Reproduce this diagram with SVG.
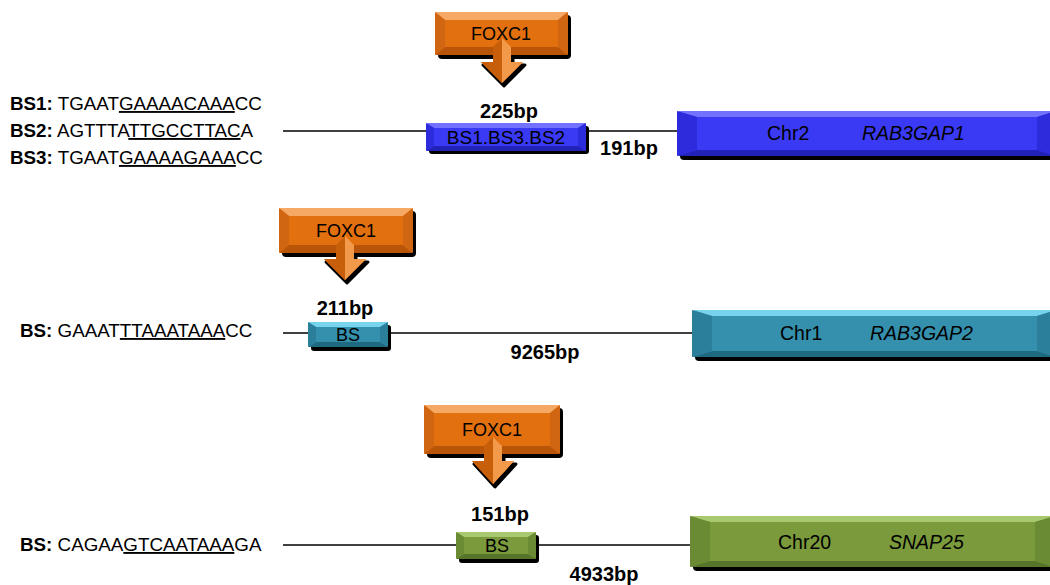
<svg xmlns="http://www.w3.org/2000/svg" width="1050" height="585" viewBox="0 0 1050 585">
<style>
text{font-family:"Liberation Sans",Arial,sans-serif;fill:#000}
.seq{font-size:18.8px}
.b{font-weight:bold}
.u{text-decoration:underline}
.bp{font-size:20px;font-weight:bold;text-anchor:middle}
.lbl{font-size:18px;text-anchor:middle}
.gene{font-size:19.5px}
.it{font-style:italic}
.sh{fill:#000}
.ash{fill:#000;stroke:#000;stroke-width:3;stroke-linejoin:round}
.ln{stroke:#000;stroke-width:1.5;fill:none}
</style>
<rect width="1050" height="585" fill="#fff"/>
<g id="connectors">
<line class="ln" x1="283" y1="131" x2="678" y2="131"/>
<line class="ln" x1="283" y1="333" x2="693" y2="333"/>
<line class="ln" x1="283" y1="545" x2="691" y2="545"/>
</g>
<g id="seq1">
<text class="seq" x="10" y="110"><tspan class="b">BS1:</tspan> TGAAT<tspan class="u">GAAAACAAA</tspan>CC</text>
<text class="seq" x="10" y="137"><tspan class="b">BS2:</tspan> AGTTTA<tspan class="u">TTGCCTTAC</tspan>A</text>
<text class="seq" x="10" y="164"><tspan class="b">BS3:</tspan> TGAAT<tspan class="u">GAAAAGAAA</tspan>CC</text>
</g>
<g id="seq2"><text class="seq" x="20" y="337"><tspan class="b">BS:</tspan> GAAAT<tspan class="u">TTAAATAAA</tspan>CC</text></g>
<g id="seq3"><text class="seq" x="20" y="551"><tspan class="b">BS:</tspan> CAGAA<tspan class="u">GTCAATAAA</tspan>GA</text></g>

<!-- FOXC1 callout 1 -->
<g id="foxc1-1">
<rect class="sh" x="438" y="15" width="133" height="44" rx="4"/>
<polygon class="ash" transform="translate(2,3)" points="493,55 511,55 511,62 523,62 502,83 481,62 493,62"/>
<rect x="435" y="12" width="133" height="43" rx="4" fill="#e2700f"/>
<polygon fill="#f6a865" points="435,12 568,12 558,20 445,20"/>
<polygon fill="#b85508" points="435,55 568,55 558,47 445,47"/>
<polygon fill="#d06512" points="435,12 445,20 445,47 435,55"/>
<polygon fill="#d06512" points="568,12 558,20 558,47 568,55"/>
<polygon fill="#e2700f" points="493,47 511,47 511,62 523,62 502,83 481,62 493,62"/>
<polygon fill="#f39a4a" points="502,38 511,47 511,62 523,62 502,83"/>
<polygon fill="#c65e0a" points="493,47 502,38 502,83 481,62 493,62"/>
<text class="lbl" x="501" y="40">FOXC1</text>
</g>
<!-- BS box 1 -->
<g id="bs1">
<rect class="sh" x="429" y="126" width="160" height="28" rx="3"/>
<rect x="426" y="123" width="160" height="28" rx="3" fill="#3a3af5"/>
<polygon fill="#7272ff" points="426,123 586,123 578,128 434,128"/>
<polygon fill="#2222b8" points="426,151 586,151 578,146 434,146"/>
<polygon fill="#2c2cdc" points="426,123 434,128 434,146 426,151"/>
<polygon fill="#2c2cdc" points="586,123 578,128 578,146 586,151"/>
<text class="lbl" x="506" y="144" style="font-size:19px">BS1.BS3.BS2</text>
</g>
<text class="bp" x="509" y="118">225bp</text>
<text class="bp" x="629" y="155">191bp</text>
<!-- Gene 1 -->
<g id="gene1">
<rect class="sh" x="680" y="114" width="380" height="46" rx="4"/>
<rect x="677" y="111" width="380" height="45" rx="4" fill="#3a3af5"/>
<polygon fill="#7272ff" points="677,111 1057,111 1037,117 697,117"/>
<polygon fill="#2222b8" points="677,156 1057,156 1037,150 697,150"/>
<polygon fill="#2c2cdc" points="677,111 697,117 697,150 677,156"/>
<polygon fill="#2c2cdc" points="1057,111 1037,117 1037,150 1057,156"/>
<text class="gene" x="767" y="140">Chr2</text>
<text class="gene it" x="862" y="140">RAB3GAP1</text>
</g>

<!-- FOXC1 callout 2 -->
<g id="foxc1-2">
<rect class="sh" x="282" y="211" width="134" height="46" rx="4"/>
<polygon class="ash" transform="translate(2,3)" points="336,253 354,253 354,259 366,259 345,280 324,259 336,259"/>
<rect x="279" y="208" width="134" height="45" rx="4" fill="#e2700f"/>
<polygon fill="#f6a865" points="279,208 413,208 403,216 289,216"/>
<polygon fill="#b85508" points="279,253 413,253 403,245 289,245"/>
<polygon fill="#d06512" points="279,208 289,216 289,245 279,253"/>
<polygon fill="#d06512" points="413,208 403,216 403,245 413,253"/>
<polygon fill="#e2700f" points="336,245 354,245 354,259 366,259 345,280 324,259 336,259"/>
<polygon fill="#f39a4a" points="345,236 354,245 354,259 366,259 345,280"/>
<polygon fill="#c65e0a" points="336,245 345,236 345,280 324,259 336,259"/>
<text class="lbl" x="346" y="237">FOXC1</text>
</g>
<text class="bp" x="345" y="315">211bp</text>
<g id="bs2">
<rect class="sh" x="311" y="325" width="80" height="26" rx="3"/>
<rect x="308" y="322" width="80" height="25" rx="3" fill="#3590ad"/>
<polygon fill="#78d4ee" points="308,322 388,322 380,327 316,327"/>
<polygon fill="#1f6a80" points="308,347 388,347 380,342 316,342"/>
<polygon fill="#2c7f9a" points="308,322 316,327 316,342 308,347"/>
<polygon fill="#2c7f9a" points="388,322 380,327 380,342 388,347"/>
<text class="lbl" x="348" y="341">BS</text>
</g>
<text class="bp" x="545" y="359">9265bp</text>
<g id="gene2">
<rect class="sh" x="695" y="313" width="365" height="48" rx="4"/>
<rect x="692" y="310" width="365" height="47" rx="4" fill="#3590ad"/>
<polygon fill="#78d4ee" points="692,310 1057,310 1037,316 712,316"/>
<polygon fill="#1f6a80" points="692,357 1057,357 1037,351 712,351"/>
<polygon fill="#2c7f9a" points="692,310 712,316 712,351 692,357"/>
<polygon fill="#2c7f9a" points="1057,310 1037,316 1037,351 1057,357"/>
<text class="gene" x="780" y="340">Chr1</text>
<text class="gene it" x="870" y="340">RAB3GAP2</text>
</g>

<!-- FOXC1 callout 3 -->
<g id="foxc1-3">
<rect class="sh" x="427" y="408" width="136" height="50" rx="4"/>
<polygon class="ash" transform="translate(2,3)" points="484,454 502,454 502,461 514,461 493,484 472,461 484,461"/>
<rect x="424" y="405" width="136" height="49" rx="4" fill="#e2700f"/>
<polygon fill="#f6a865" points="424,405 560,405 550,413 434,413"/>
<polygon fill="#b85508" points="424,454 560,454 550,446 434,446"/>
<polygon fill="#d06512" points="424,405 434,413 434,446 424,454"/>
<polygon fill="#d06512" points="560,405 550,413 550,446 560,454"/>
<polygon fill="#e2700f" points="484,446 502,446 502,461 514,461 493,484 472,461 484,461"/>
<polygon fill="#f39a4a" points="493,437 502,446 502,461 514,461 493,484"/>
<polygon fill="#c65e0a" points="484,446 493,437 493,484 472,461 484,461"/>
<text class="lbl" x="492" y="436">FOXC1</text>
</g>
<text class="bp" x="500" y="521">151bp</text>
<g id="bs3">
<rect class="sh" x="459" y="535" width="80" height="28" rx="3"/>
<rect x="456" y="532" width="80" height="27" rx="3" fill="#7a9a3c"/>
<polygon fill="#a8c870" points="456,532 536,532 528,537 464,537"/>
<polygon fill="#56742a" points="456,559 536,559 528,554 464,554"/>
<polygon fill="#6a8a34" points="456,532 464,537 464,554 456,559"/>
<polygon fill="#6a8a34" points="536,532 528,537 528,554 536,559"/>
<text class="lbl" x="497" y="552">BS</text>
</g>
<text class="bp" x="604" y="581">4933bp</text>
<g id="gene3">
<rect class="sh" x="693" y="519" width="365" height="52" rx="4"/>
<rect x="690" y="516" width="365" height="51" rx="4" fill="#7a9a3c"/>
<polygon fill="#a8c870" points="690,516 1055,516 1035,522 710,522"/>
<polygon fill="#56742a" points="690,567 1055,567 1035,561 710,561"/>
<polygon fill="#6a8a34" points="690,516 710,522 710,561 690,567"/>
<polygon fill="#6a8a34" points="1055,516 1035,522 1035,561 1055,567"/>
<text class="gene" x="778" y="549">Chr20</text>
<text class="gene it" x="889" y="549">SNAP25</text>
</g>
</svg>
